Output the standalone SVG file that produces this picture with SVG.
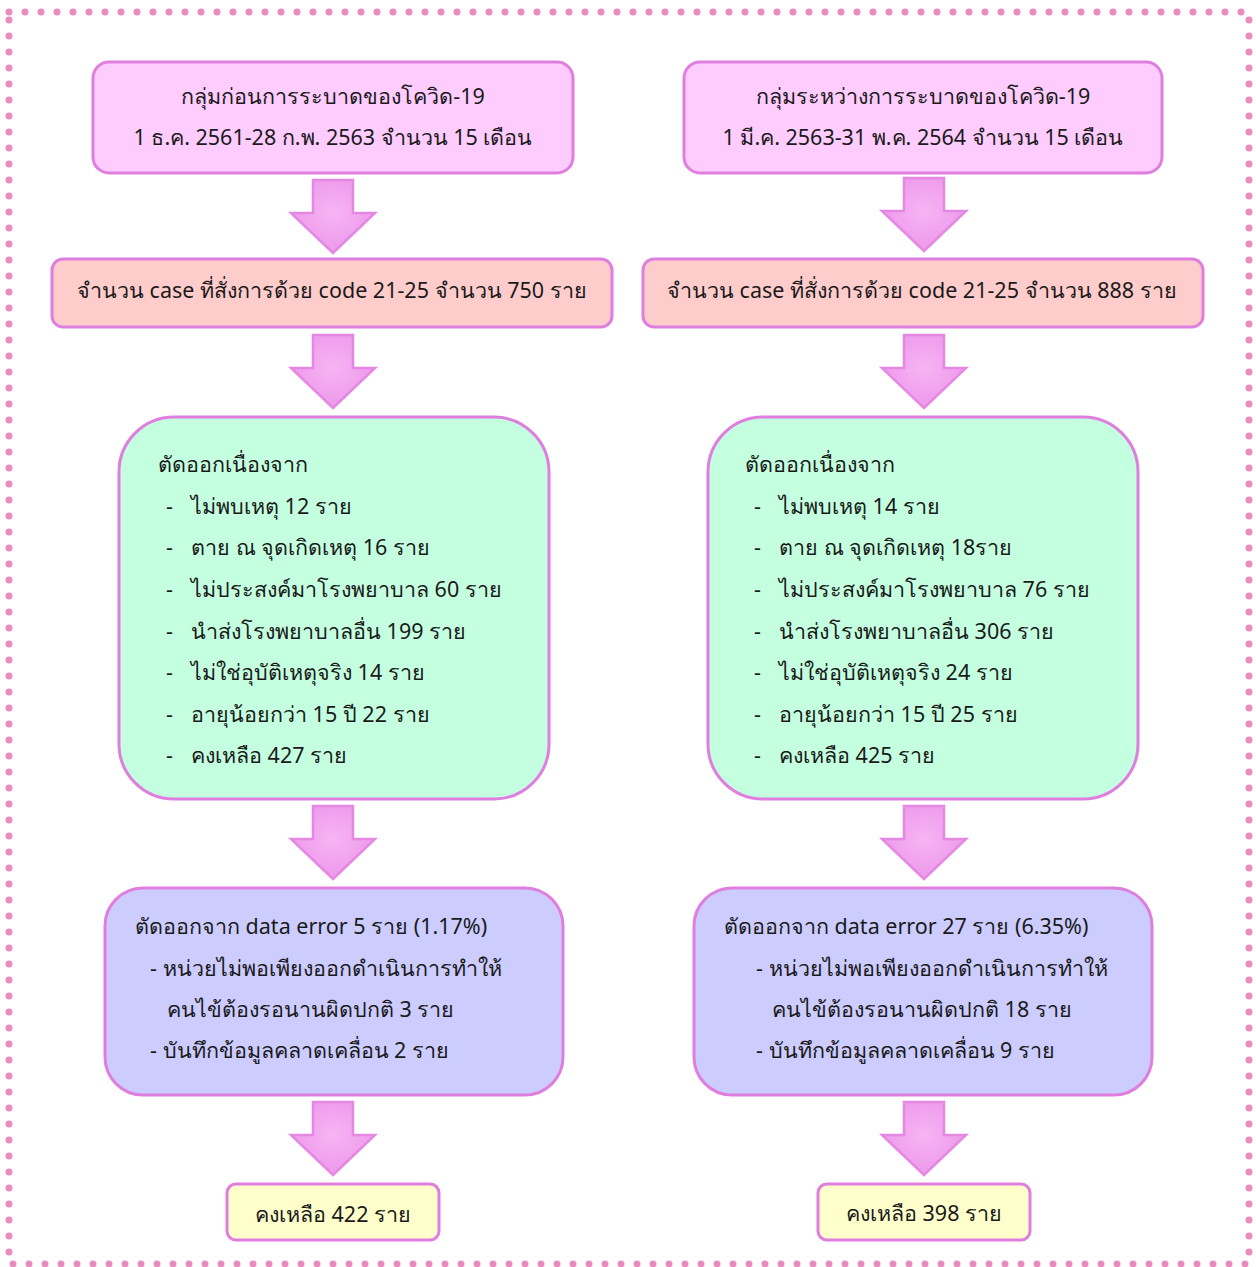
<svg xmlns="http://www.w3.org/2000/svg" width="1256" height="1267" viewBox="0 0 1256 1267">
<defs>
<radialGradient id="ag" cx="0.5" cy="0.45" r="0.6">
<stop offset="0" stop-color="#f7b4f4"/>
<stop offset="1" stop-color="#ec96ea"/>
</radialGradient>
<path id="arr" d="M-20 0 H20 V33 H42 L0 73 L-42 33 H-20 Z"/>
</defs>
<style>
text{font-family:"Noto Sans","DejaVu Sans",sans-serif;font-size:21.5px;fill:#1a1a1a}
.box{stroke:#e07ee0;stroke-width:3}
.a{fill:url(#ag);stroke:#e488e4;stroke-width:2.5;stroke-linejoin:miter}
.c{text-anchor:middle}
</style>
<rect width="1256" height="1267" fill="#ffffff"/>
<rect x="9" y="12" width="1240" height="1252" fill="none" stroke="#ea8bbf" stroke-width="7" stroke-linecap="round" stroke-dasharray="0 16"/>

<g id="connectors">
<use href="#arr" class="a" transform="translate(333,180)"/>
<use href="#arr" class="a" transform="translate(333,335)"/>
<use href="#arr" class="a" transform="translate(333,806)"/>
<use href="#arr" class="a" transform="translate(333,1102)"/>
<use href="#arr" class="a" transform="translate(924,178)"/>
<use href="#arr" class="a" transform="translate(924,335)"/>
<use href="#arr" class="a" transform="translate(924,806)"/>
<use href="#arr" class="a" transform="translate(924,1102)"/>
</g>

<g id="n1L">
<rect class="box" x="93" y="62" width="480" height="111" rx="16" fill="#ffccff"/>
<text class="c" x="333" y="104">กลุ่มก่อนการระบาดของโควิด-19</text>
<text class="c" x="333" y="145">1 ธ.ค. 2561-28 ก.พ. 2563 จำนวน 15 เดือน</text>
</g>
<g id="n1R">
<rect class="box" x="684" y="62" width="478" height="111" rx="16" fill="#ffccff"/>
<text class="c" x="923" y="104">กลุ่มระหว่างการระบาดของโควิด-19</text>
<text class="c" x="923" y="145">1 มี.ค. 2563-31 พ.ค. 2564 จำนวน 15 เดือน</text>
</g>

<g id="n2L">
<rect class="box" x="52" y="259" width="560" height="68" rx="11" fill="#ffcccc"/>
<text x="77" y="298">จำนวน case ที่สั่งการด้วย code 21-25 จำนวน 750 ราย</text>
</g>
<g id="n2R">
<rect class="box" x="643" y="259" width="560" height="68" rx="11" fill="#ffcccc"/>
<text x="667" y="298">จำนวน case ที่สั่งการด้วย code 21-25 จำนวน 888 ราย</text>
</g>

<g id="n3L">
<rect class="box" x="119" y="417" width="430" height="382" rx="55" fill="#c4ffe0"/>
<text x="158" y="472">ตัดออกเนื่องจาก</text>
<text x="166" y="514">-</text><text x="191" y="514">ไม่พบเหตุ 12 ราย</text>
<text x="166" y="555">-</text><text x="191" y="555">ตาย ณ จุดเกิดเหตุ 16 ราย</text>
<text x="166" y="597">-</text><text x="191" y="597">ไม่ประสงค์มาโรงพยาบาล 60 ราย</text>
<text x="166" y="639">-</text><text x="191" y="639">นำส่งโรงพยาบาลอื่น 199 ราย</text>
<text x="166" y="680">-</text><text x="191" y="680">ไม่ใช่อุบัติเหตุจริง 14 ราย</text>
<text x="166" y="722">-</text><text x="191" y="722">อายุน้อยกว่า 15 ปี 22 ราย</text>
<text x="166" y="763">-</text><text x="191" y="763">คงเหลือ 427 ราย</text>
</g>
<g id="n3R">
<rect class="box" x="708" y="417" width="430" height="382" rx="55" fill="#c4ffe0"/>
<text x="745" y="472">ตัดออกเนื่องจาก</text>
<text x="754" y="514">-</text><text x="779" y="514">ไม่พบเหตุ 14 ราย</text>
<text x="754" y="555">-</text><text x="779" y="555">ตาย ณ จุดเกิดเหตุ 18ราย</text>
<text x="754" y="597">-</text><text x="779" y="597">ไม่ประสงค์มาโรงพยาบาล 76 ราย</text>
<text x="754" y="639">-</text><text x="779" y="639">นำส่งโรงพยาบาลอื่น 306 ราย</text>
<text x="754" y="680">-</text><text x="779" y="680">ไม่ใช่อุบัติเหตุจริง 24 ราย</text>
<text x="754" y="722">-</text><text x="779" y="722">อายุน้อยกว่า 15 ปี 25 ราย</text>
<text x="754" y="763">-</text><text x="779" y="763">คงเหลือ 425 ราย</text>
</g>

<g id="n4L">
<rect class="box" x="105" y="888" width="458" height="207" rx="38" fill="#ccccff"/>
<text x="135" y="934">ตัดออกจาก data error 5 ราย (1.17%)</text>
<text x="150" y="976">- หน่วยไม่พอเพียงออกดำเนินการทำให้</text>
<text x="167" y="1017">คนไข้ต้องรอนานผิดปกติ 3 ราย</text>
<text x="150" y="1058">- บันทึกข้อมูลคลาดเคลื่อน 2 ราย</text>
</g>
<g id="n4R">
<rect class="box" x="694" y="888" width="458" height="207" rx="38" fill="#ccccff"/>
<text x="724" y="934">ตัดออกจาก data error 27 ราย (6.35%)</text>
<text x="756" y="976">- หน่วยไม่พอเพียงออกดำเนินการทำให้</text>
<text x="772" y="1017">คนไข้ต้องรอนานผิดปกติ 18 ราย</text>
<text x="756" y="1058">- บันทึกข้อมูลคลาดเคลื่อน 9 ราย</text>
</g>

<g id="n5L">
<rect class="box" x="227" y="1184" width="212" height="56" rx="9" fill="#ffffcc"/>
<text class="c" x="333" y="1222">คงเหลือ 422 ราย</text>
</g>
<g id="n5R">
<rect class="box" x="818" y="1184" width="212" height="56" rx="9" fill="#ffffcc"/>
<text class="c" x="924" y="1221">คงเหลือ 398 ราย</text>
</g>
</svg>
